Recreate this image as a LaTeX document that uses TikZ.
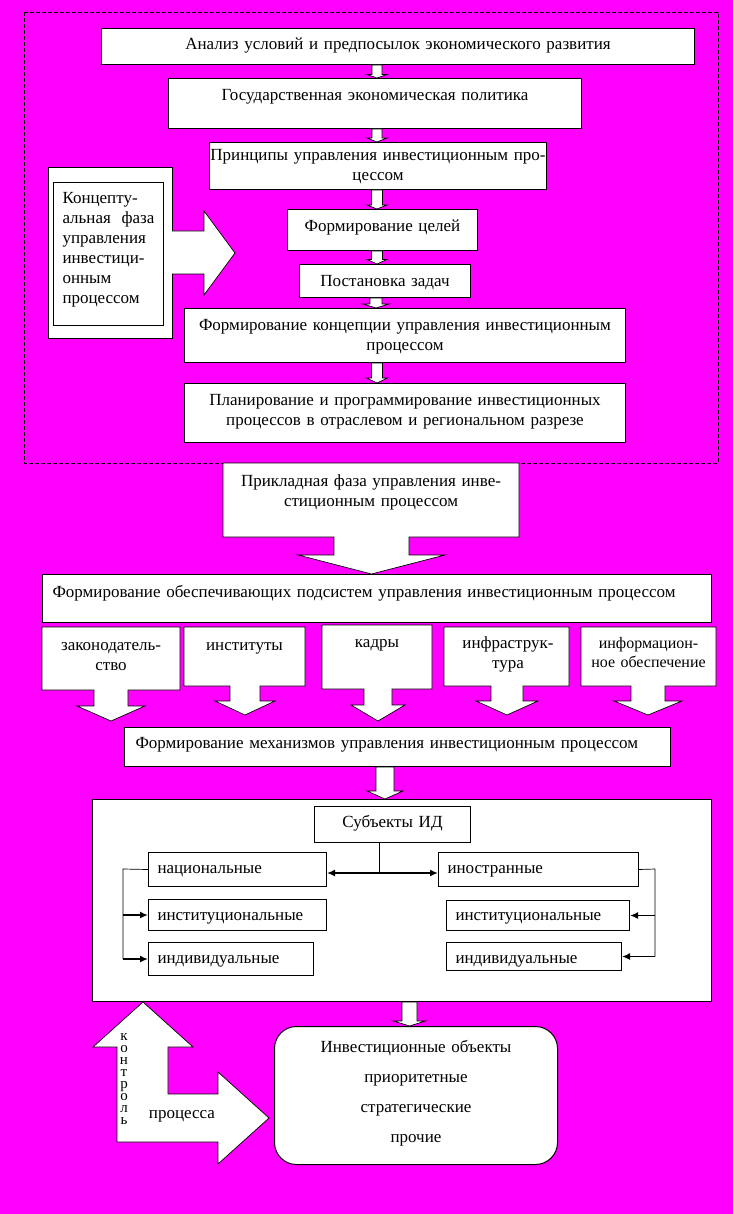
\documentclass[tikz,border=0pt]{standalone}
\usepackage{fontspec}
\setmainfont{Liberation Serif}
\usetikzlibrary{arrows.meta, calc}

\definecolor{fon}{RGB}{255,0,255}

\tikzset{
  box/.style={draw, fill=white, line width=1pt, anchor=north west, inner sep=0pt},
  blockshape/.style={draw, fill=white, line width=0.7pt, line join=miter},
  link/.style={line width=1.6pt},
  rail/.style={line width=0.7pt},
  tag/.style={inner sep=0pt, anchor=base},
}

% white block arrow between two boxes: x, upper node, lower node, half shaft, half head, head length
\newcommand{\blockdown}[6]{%
  \draw[blockshape] let \p1=(#2.south), \p2=(#3.north) in
    (#1-#4,\y1) -- (#1+#4,\y1) -- (#1+#4,\y2+#6) -- (#1+#5,\y2+#6) -- (#1,\y2)
    -- (#1-#5,\y2+#6) -- (#1-#4,\y2+#6) -- cycle;}

\begin{document}
\begin{tikzpicture}[x=1pt, y=-1pt, >={Latex[length=8pt,width=7pt]},
    font=\fontsize{17}{20}\selectfont]
  \useasboundingbox (0,0) rectangle (733,1214);
  \fill[fon] (0,0) rectangle (733,1214);

  % conceptual phase frame
  \draw[line width=0.9pt, dash pattern=on 4pt off 2pt] (24,12) rectangle (718,463);

  % chain of the conceptual phase
  \node[box, align=center, text width=593pt, text height=21pt, text depth=15pt] (analiz) at (101,28)
    {Анализ условий и предпосылок экономического развития};
  \node[box, align=center, text width=413pt, text height=22pt, text depth=28pt] (politika) at (168,78)
    {Государственная экономическая политика};
  \node[box, align=center, text width=337pt, text height=18pt, text depth=29pt] (principy) at (209,142)
    {Принципы управления инвестиционным про-\\цессом};
  \node[box, align=center, text width=190pt, text height=22pt, text depth=19pt] (celi) at (287,209)
    {Формирование целей};
  \node[box, align=center, text width=171pt, text height=22pt, text depth=11pt] (zadachi) at (299,264)
    {Постановка задач};
  \node[box, align=center, text width=441pt, text height=22pt, text depth=32pt] (koncepciya) at (184,308)
    {Формирование концепции управления инвестиционным\\процессом};
  \node[box, align=center, text width=441pt, text height=22pt, text depth=37pt] (plan) at (184,383)
    {Планирование и программирование инвестиционных\\процессов в отраслевом и региональном разрезе};

  \blockdown{377}{analiz}{politika}{5}{10}{3.5}
  \blockdown{377}{politika}{principy}{5}{10}{4}
  \blockdown{377}{principy}{celi}{5.5}{10}{4}
  \blockdown{377}{celi}{zadachi}{5.5}{10}{4.5}
  \blockdown{376}{zadachi}{koncepciya}{6}{13}{4}
  \blockdown{377}{koncepciya}{plan}{5.5}{10.5}{5}

  % side block: conceptual phase
  \node[box, minimum width=124pt, minimum height=171pt] (faza) at (48,167) {};
  \node[box, align=left, inner xsep=9pt, text width=92pt, text height=21pt, text depth=122pt] (fazatext) at (53,182)
    {Концепту-\\альная\hfill фаза\\управления\\инвестици-\\онным\\процессом};
  \draw[blockshape] (172,231) -- (204,231) -- (204,211) -- (235,253) -- (204,295) -- (204,274) -- (172,274);

  % callouts: applied phase and the five supporting subsystems
  \foreach \xa/\xb/\yt/\yb/\xc/\hs/\yh/\hh/\yp in
      {223/519/463/537/371.5/37.5/555/73.5/574,
       42/180/627/690/111/17/706/34/721,
       184/305/627/686/245/15/701/30/715,
       322/432/625/689/378/14/705/27/721,
       444/569/627/686/507/16/701/31/715,
       581/716/627/686/648/17/701/34/715}
    \draw[blockshape] (\xa,\yt) -- (\xb,\yt) -- (\xb,\yb) -- (\xc+\hs,\yb) -- (\xc+\hs,\yh)
      -- (\xc+\hh,\yh) -- (\xc,\yp) -- (\xc-\hh,\yh) -- (\xc-\hs,\yh) -- (\xc-\hs,\yb)
      -- (\xa,\yb) -- cycle;
  \node[tag, align=center, text width=290pt] (prikl) at (371,486)
    {Прикладная фаза управления инве-\\стиционным процессом};
  \node[tag, align=center, text width=130pt] (zakon) at (111,650) {законодатель-\\ство};
  \node[tag] (instituty) at (244.5,650) {институты};
  \node[tag] (kadry) at (377,647) {кадры};
  \node[tag, align=center, text width=120pt] (infra) at (508,648) {инфраструк-\\тура};
  \node[tag, align=center, text width=130pt, font=\fontsize{16}{19}\selectfont] (inform) at (648.5,648)
    {информацион-\\ное обеспечение};

  \node[box, align=left, inner xsep=10pt, text width=649pt, text height=23pt, text depth=25pt] (obesp) at (42,574)
    {Формирование обеспечивающих подсистем управления инвестиционным процессом};
  \node[box, align=left, inner xsep=11pt, text width=524pt, text height=21pt, text depth=18pt] (mehanizm) at (124,727)
    {Формирование механизмов управления инвестиционным процессом};

  % subjects of investment activity
  \node[box, minimum width=619pt, minimum height=202pt] (subjbox) at (92,799) {};
  \blockdown{385}{mehanizm}{subjbox}{9}{18}{8}
  \node[box, align=center, text width=156pt, text height=21pt, text depth=15pt] (subj) at (314,806) {Субъекты ИД};
  \node[box, align=left, inner xsep=9pt, text width=160pt, text height=21pt, text depth=13pt] (nat) at (148,852) {национальные};
  \node[box, align=left, inner xsep=9pt, text width=182pt, text height=21pt, text depth=13pt] (inostr) at (438,852) {иностранные};
  \node[box, align=left, inner xsep=9pt, text width=160pt, text height=21pt, text depth=10pt] (natinst) at (148,899) {институциональные};
  \node[box, align=left, inner xsep=9pt, text width=147pt, text height=21pt, text depth=12pt] (natind) at (148,942) {индивидуальные};
  \node[box, align=left, inner xsep=9pt, text width=165pt, text height=20pt, text depth=10pt] (forinst) at (446,900) {институциональные};
  \node[box, align=left, inner xsep=9pt, text width=157pt, text height=21pt, text depth=7pt] (forind) at (446,942) {индивидуальные};

  \coordinate (fork) at (379,873);
  \draw[rail] (subj.south -| fork) -- (fork);
  \draw[link, <->] (nat.east |- fork) -- (inostr.west |- fork);
  \coordinate (lrail) at (123,869);
  \draw[rail] (nat.west) -- (lrail) -- (lrail |- natind.west);
  \draw[link, ->] (lrail |- natinst.west) -- (natinst.west);
  \draw[link, ->] (lrail |- natind.west) -- (natind.west);
  \coordinate (rrail) at (655,869);
  \draw[rail] (inostr.east) -- (rrail) -- (rrail |- forind.east);
  \draw[link, ->] (rrail |- forinst.east) -- (forinst.east);
  \draw[link, ->] (rrail |- forind.east) -- (forind.east);

  % investment objects
  \node[box, rounded corners=22pt, align=center, text width=283pt, text height=26pt, text depth=112pt,
    font=\fontsize{17}{30}\selectfont] (objekty) at (274,1026)
    {Инвестиционные объекты\\приоритетные\\стратегические\\прочие};
  \blockdown{409.5}{subjbox}{objekty}{7.5}{16}{5}

  % process control arrow
  \draw[blockshape] (143,1002) -- (193,1047) -- (168,1047) -- (168,1094) -- (218,1094) -- (218,1072)
    -- (269,1118) -- (218,1164) -- (218,1142) -- (117,1142) -- (117,1047) -- (93,1047) -- cycle;
  \node[tag, align=center, text width=12pt, font=\fontsize{15}{12}\selectfont] (kontrol) at (124,1040)
    {к\\о\\н\\т\\р\\о\\л\\ь};
  \node[tag] (process) at (182,1118) {процесса};
\end{tikzpicture}
\end{document}
